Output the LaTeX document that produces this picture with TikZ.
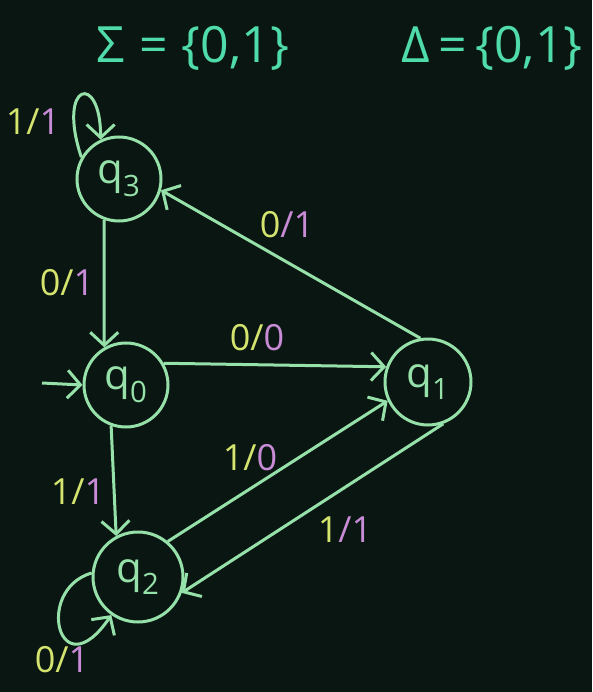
\documentclass[tikz,border=0pt]{standalone}
\usepackage{fontspec}
\setmainfont{Open Sans}
\definecolor{BoardBg}    {RGB}{10,22,17}
\definecolor{ChalkGreen} {RGB}{150,225,170}
\definecolor{ChalkTeal}  {RGB}{80,220,170}
\definecolor{ChalkYellow}{RGB}{212,228,110}
\definecolor{ChalkPink}  {RGB}{200,140,215}
\usetikzlibrary{arrows.meta,positioning}
\newcommand{\inpart}[1]{\textcolor{ChalkYellow}{#1}}
\newcommand{\outpart}[1]{\textcolor{ChalkPink}{#1}}

\begin{document}
\begin{tikzpicture}[x=1pt,y=-1pt,
  mstate/.style={circle,draw=ChalkGreen,line width=3pt,minimum size=84pt,
                 inner sep=0pt,text=ChalkGreen,font=\fontsize{42}{44}\selectfont},
  trans/.style={draw=ChalkGreen,line width=3pt,
                -{Straight Barb[length=13pt,width=28pt]}},
  lbl/.style={font=\fontsize{36}{38}\selectfont},
  hdr/.style={text=ChalkTeal,font=\fontsize{50}{52}\selectfont}]
  %% Board
  \fill[BoardBg](0,0) rectangle (592,692);
  \useasboundingbox (0,0) rectangle (592,692);
  %% Alphabets
  \node[hdr] (sigma) at (193,48){Σ\;=\;\{0,1\}};
  \node[hdr] (delta) at (492,48){Δ\,=\,\{0,1\}};
  %% States
  \node[mstate] (q3) at (119,179){q\textsubscript{3}};
  \node[mstate] (q0) at (126,385){q\textsubscript{0}};
  \node[mstate,minimum size=86pt] (q1) at (428,382){q\textsubscript{1}};
  \node[mstate,minimum size=90pt] (q2) at (138,577){q\textsubscript{2}};
  %% Start arrow
  \coordinate (init) at (42,383);
  \draw[trans](init)--(q0.180);
  %% Transitions
  \draw[trans](q3.250)--(q0.120);
  \draw[trans](q0.30)--(q1.160);
  \draw[trans](q1.100)--(q3.-15);
  \draw[trans](q0.-110)--(q2.118);
  \draw[trans](q2.50)--(q1.205);
  \draw[trans](q1.-70)--(q2.-20);
  %% Self loops
  \draw[trans](q3.150) .. controls +(-25,-75) and +(0,-68) .. (q3.115);
  \draw[trans](q2.175) .. controls +(-58,17) and +(-52,76) .. (q2.235);
  %% Input/output labels
  \node[lbl] (l33) at (33,122){\inpart{1/}\outpart{1}};
  \node[lbl] (l30) at (67,283){\inpart{0/}\outpart{1}};
  \node[lbl] (l13) at (287,225){\inpart{0}\outpart{/1}};
  \node[lbl] (l01) at (257,338){\inpart{0/}\outpart{0}};
  \node[lbl] (l02) at (78,492){\inpart{1/}\outpart{1}};
  \node[lbl] (l21) at (250,458){\inpart{1/}\outpart{0}};
  \node[lbl] (l12) at (345,530){\inpart{1}\outpart{/1}};
  \node[lbl] (l22) at (62,660){\inpart{0/}\outpart{1}};
\end{tikzpicture}
\end{document}
